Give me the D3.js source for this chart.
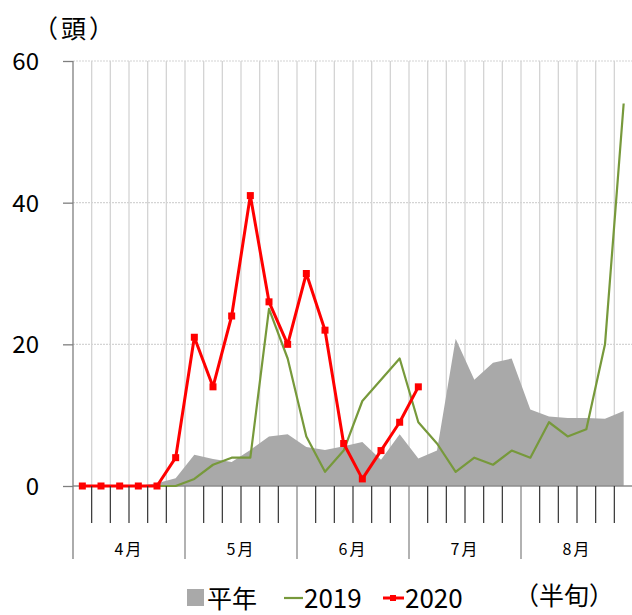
<!DOCTYPE html>
<html><head><meta charset="utf-8">
<script src="https://cdn.jsdelivr.net/npm/d3@7/dist/d3.min.js"></script>
<style>
html,body{margin:0;padding:0;background:#fff;}
text{font-family:"Noto Sans CJK JP","Noto Sans",sans-serif;fill:#000;}
</style></head>
<body><svg id="c" width="632" height="615"></svg>
<script>
const months = ["4月","5月","6月","7月","8月"];
const periodsPerMonth = 6;
const yTicks = [0,20,40,60];
const seriesNames = ["平年","2019","2020"];
const normalValues = [0,0,0,0,0.4,1.1,4.4,3.8,3.4,5.1,7.0,7.3,5.5,5.1,5.6,6.2,3.7,7.3,3.9,5.0,20.8,15.0,17.4,18.0,10.8,9.8,9.6,9.6,9.5,10.6];
const values2019 = [0,0,0,0,0,0,1,3,4,4,25,18,7,2,5,12,15,18,9,6,2,4,3,5,4,9,7,8,20,54];
const values2020 = [0,0,0,0,0,4,21,14,24,41,26,20,30,22,6,1,5,9,14];

const W=632,H=615;
const svg=d3.select("#c");
const cats=d3.range(months.length*periodsPerMonth);
const x=d3.scaleBand().domain(cats).range([73,633]).padding(0);
const y=d3.scaleLinear().domain([0,60]).range([486,61]);
const cx=i=>x(i)+x.bandwidth()/2;

// horizontal gridlines
svg.append("g").selectAll("line").data(yTicks.filter(d=>d>0)).join("line")
  .attr("x1",73).attr("x2",W).attr("y1",d=>y(d)).attr("y2",d=>y(d))
  .attr("stroke","#d4d4d4").attr("stroke-width",1.2).attr("stroke-dasharray","2,1");
// vertical gridlines at category boundaries
svg.append("g").selectAll("line").data(cats.slice(1)).join("line")
  .attr("x1",d=>x(d)).attr("x2",d=>x(d)).attr("y1",y(60)).attr("y2",y(0))
  .attr("stroke","#d4d4d4").attr("stroke-width",1.3);

// normal-year area
svg.append("path").datum(normalValues)
  .attr("fill","#a9a9a9")
  .attr("d",d3.area().x((d,i)=>cx(i)).y0(y(0)).y1(d=>y(d)));

// zero line
svg.append("line").attr("x1",73).attr("x2",W).attr("y1",y(0)).attr("y2",y(0))
  .attr("stroke","#8c8c8c").attr("stroke-width",1.3);

// 2019 line
svg.append("path").datum(values2019)
  .attr("fill","none").attr("stroke","#77993b").attr("stroke-width",2.2).attr("stroke-linejoin","round")
  .attr("d",d3.line().x((d,i)=>cx(i)).y(d=>y(d)));

// 2020 line
svg.append("path").datum(values2020)
  .attr("fill","none").attr("stroke","#ff0000").attr("stroke-width",3).attr("stroke-linejoin","round")
  .attr("d",d3.line().x((d,i)=>cx(i)).y(d=>y(d)));
svg.append("g").selectAll("rect").data(values2020).join("rect")
  .attr("x",(d,i)=>cx(i)-3.5).attr("y",d=>y(d)-3.5).attr("width",7).attr("height",7)
  .attr("fill","#ff0000");

// y axis
const ya=svg.append("g").attr("transform","translate(73,0)")
  .call(d3.axisLeft(y).tickValues(yTicks).tickSize(10).tickPadding(24).tickFormat(d3.format("d")));
ya.select(".domain").remove();
ya.selectAll(".tick line").attr("stroke","#7f7f7f").attr("stroke-width",1.3);
ya.selectAll(".tick text").attr("font-size",24).attr("font-family","'Noto Sans CJK JP',sans-serif").attr("dy","0.35em");
svg.append("line").attr("x1",73).attr("x2",73).attr("y1",y(60)).attr("y2",559)
  .attr("stroke","#7f7f7f").attr("stroke-width",1.3);

// x category ticks below axis
svg.append("g").selectAll("line").data(cats.slice(1)).join("line")
  .attr("x1",d=>x(d)).attr("x2",d=>x(d)).attr("y1",y(0))
  .attr("y2",d=>d%periodsPerMonth===0?559:523)
  .attr("stroke",d=>d%periodsPerMonth===0?"#7f7f7f":"#333").attr("stroke-width",1.2);
// month labels
svg.append("g").selectAll("text").data(months).join("text")
  .attr("x",(d,i)=>x(i*periodsPerMonth)+x.bandwidth()*periodsPerMonth/2)
  .attr("y",555).attr("text-anchor","middle").attr("font-size",16).attr("letter-spacing",2).text(d=>d);

// unit labels
svg.append("text").attr("x",33).attr("y",38).attr("font-size",25).attr("letter-spacing",3).text("（頭）");
svg.append("text").attr("x",514).attr("y",605).attr("font-size",25).text("（半旬）");

// legend
const lg=svg.append("g");
lg.append("rect").attr("x",187).attr("y",589).attr("width",17).attr("height",17).attr("fill","#a9a9a9");
lg.append("text").attr("x",207).attr("y",608).attr("font-size",25).text(seriesNames[0]);
lg.append("line").attr("x1",284).attr("x2",303).attr("y1",598).attr("y2",598).attr("stroke","#77993b").attr("stroke-width",2.2);
lg.append("text").attr("x",304).attr("y",608).attr("font-size",26).text(seriesNames[1]);
lg.append("line").attr("x1",383).attr("x2",404).attr("y1",598).attr("y2",598).attr("stroke","#ff0000").attr("stroke-width",3);
lg.append("rect").attr("x",390).attr("y",595).attr("width",6).attr("height",6).attr("fill","#ff0000");
lg.append("text").attr("x",405).attr("y",608).attr("font-size",26).text(seriesNames[2]);
</script></body></html>
